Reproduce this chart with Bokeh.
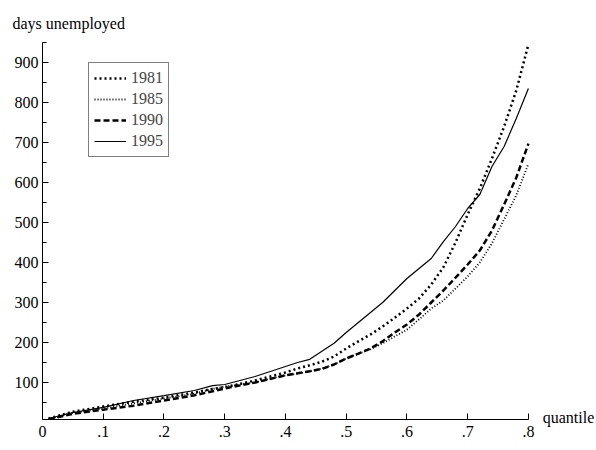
from bokeh.plotting import figure
from bokeh.models import Range1d, FixedTicker, Legend, LegendItem, Title
from bokeh.embed import file_html
from bokeh.resources import INLINE

quantile = [0.01, 0.05, 0.10, 0.15, 0.20, 0.25, 0.28, 0.30, 0.35, 0.40, 0.42, 0.44,
            0.46, 0.48, 0.50, 0.52, 0.54, 0.56, 0.58, 0.60, 0.62, 0.64, 0.66, 0.68,
            0.70, 0.72, 0.74, 0.76, 0.78, 0.80]

y1981 = [10, 27, 40, 52, 62, 75, 84, 88, 105, 125, 135, 143,
         152, 165, 185, 203, 220, 240, 262, 285, 310, 345, 388, 450,
         520, 585, 660, 740, 830, 945]
y1985 = [8, 24, 35, 48, 60, 72, 84, 90, 100, 118, 122, 128,
         135, 145, 160, 172, 183, 198, 215, 232, 258, 285, 305, 335,
         365, 400, 448, 508, 568, 647]
y1990 = [8, 22, 32, 42, 55, 68, 78, 85, 100, 118, 123, 128,
         134, 145, 160, 172, 185, 203, 225, 245, 270, 300, 330, 362,
         395, 430, 480, 545, 612, 697]
y1995 = [10, 25, 38, 55, 67, 80, 92, 95, 115, 140, 150, 158,
         178, 198, 225, 250, 275, 300, 330, 360, 385, 410, 452, 490,
         535, 570, 640, 690, 760, 835]

years = ["1981", "1985", "1990", "1995"]
x_ticks = [0, 0.1, 0.2, 0.3, 0.4, 0.5, 0.6, 0.7, 0.8]
x_tick_labels = ["0", ".1", ".2", ".3", ".4", ".5", ".6", ".7", ".8"]
y_ticks = [100, 200, 300, 400, 500, 600, 700, 800, 900]
y_minor = [50, 150, 250, 350, 450, 550, 650, 750, 850, 950]

FONT = "Liberation Serif"
X_MAX, Y_MIN, Y_MAX = 0.8, 7.5, 950

p = figure(width=594, height=444, output_backend="svg", toolbar_location=None,
           x_range=Range1d(0, 0.866), y_range=Range1d(Y_MIN, Y_MAX),
           min_border_left=42, min_border_right=26, min_border_top=42,
           min_border_bottom=25)
p.outline_line_color = None
p.xgrid.visible = False
p.ygrid.visible = False
p.background_fill_color = "white"

p.title = Title(text="days unemployed", align="left", offset=-30, standoff=22,
                text_font=FONT, text_font_size="16px", text_font_style="normal",
                text_color="black")

styles = [
    dict(line_dash="2 3", line_width=2.5),
    dict(line_dash="1 2", line_width=1.8),
    dict(line_dash="6 3", line_width=2.5),
    dict(line_dash="solid", line_width=1.2),
]
series = [y1981, y1985, y1990, y1995]
items = []
for name, ys, st in zip(years, series, styles):
    r = p.line(quantile, ys, line_color="black", **st)
    items.append(LegendItem(label=name, renderers=[r]))

legend = Legend(items=items, location=(46, 262))
legend.label_text_font = FONT
legend.label_text_font_size = "16px"
legend.label_height = 20
legend.glyph_height = 20
legend.glyph_width = 32
legend.spacing = 1
legend.padding = 5
legend.margin = 0
legend.label_standoff = 5
legend.border_line_color = "black"
legend.border_line_width = 1
legend.background_fill_alpha = 1
p.add_layout(legend)

for ax in (p.xaxis[0], p.yaxis[0]):
    ax.axis_line_color = "black"
    ax.major_tick_line_color = "black"
    ax.major_tick_in = 6
    ax.major_tick_out = 0
    ax.minor_tick_in = 4
    ax.minor_tick_out = 0
    ax.major_label_text_font = FONT
    ax.major_label_text_font_size = "16px"
    ax.major_label_text_color = "black"

xa = p.xaxis[0]
xa.bounds = (0, X_MAX)
xa.ticker = FixedTicker(ticks=x_ticks, minor_ticks=[])
xa.major_label_overrides = {t: l for t, l in zip(x_ticks, x_tick_labels)}
xa.minor_tick_line_color = None
xa.major_label_standoff = 6
xa.axis_label = "quantile"
xa.axis_label_align = "end"
xa.axis_label_standoff = -31
xa.axis_label_text_font = FONT
xa.axis_label_text_font_size = "16px"
xa.axis_label_text_font_style = "normal"
xa.axis_label_text_color = "black"

ya = p.yaxis[0]
ya.ticker = FixedTicker(ticks=y_ticks, minor_ticks=y_minor)
ya.minor_tick_line_color = "black"
ya.major_label_standoff = 4

open("out.html", "w").write(file_html(p, INLINE))
